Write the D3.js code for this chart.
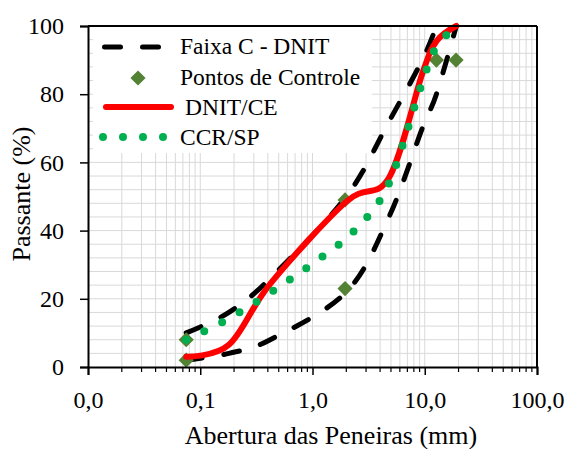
<!DOCTYPE html>
<html>
<head>
<meta charset="utf-8">
<script src="https://cdn.jsdelivr.net/npm/d3@7"></script>
<style>
  html, body { margin: 0; padding: 0; background: #fff; }
  svg { display: block; }
  text { font-family: "Liberation Serif", "Times New Roman", serif; fill: #000; }
</style>
</head>
<body>
<svg id="chart" width="566" height="449"></svg>
<script>
// ---------- data ----------
const xTickValues = [0.01, 0.1, 1, 10, 100];
const xTickLabels = ["0,0", "0,1", "1,0", "10,0", "100,0"];
const yTickValues = [0, 20, 40, 60, 80, 100];

// Faixa C - DNIT (limits)
const supSieves = [0.075, 0.18, 0.42, 2.0, 4.8, 9.5, 12.7];
const faixaSup  = [10, 16, 26, 50, 72, 90, 100];
const infSieves = [0.075, 0.18, 0.42, 2.0, 4.8, 9.5, 12.7, 19.1];
const faixaInf  = [2, 4, 8, 22, 44, 70, 80, 100];

// Pontos de Controle
const pontosX = [0.075, 0.075, 1.95, 1.95, 12.7, 19.0];
const pontosY = [8, 2, 49, 23, 90, 90];

// DNIT/CE
const dnitSieves = [0.075, 0.18, 0.42, 2.0, 4.8, 9.5, 12.7, 19.1];
const dnitCE     = [3, 6.5, 24.4, 48.5, 55.5, 86, 95.5, 100];

// CCR/SP
const ccrSieves = [0.075, 0.15, 0.3, 0.6, 1.18, 2.36, 4.75, 9.5, 12.5, 19.0];
const ccrSP     = [8, 12.8, 18.6, 25.2, 32, 40, 53.5, 83.5, 93.5, 100];

const legendLabels = ["Faixa C - DNIT", "Pontos de Controle", "DNIT/CE", "CCR/SP"];
const axisTitleX = "Abertura das Peneiras (mm)";
const axisTitleY = "Passante (%)";

// ---------- layout ----------
const svg = d3.select("#chart");
const L = 88, R = 537, T = 26, B = 367;
const x = d3.scaleLog().domain([0.01, 100]).range([L, R]);
const y = d3.scaleLinear().domain([0, 100]).range([B, T]);

const gridColor = "#d9d9d9";

// vertical gridlines (2..9 and decades)
const xMinor = [];
for (let e = -2; e < 2; e++) {
  for (let m = 2; m <= 9; m++) xMinor.push(m * Math.pow(10, e));
}
const xGrid = xMinor.concat([0.1, 1, 10]);
svg.append("g").selectAll("line").data(xGrid).join("line")
  .attr("x1", d => x(d)).attr("x2", d => x(d))
  .attr("y1", T).attr("y2", B)
  .attr("stroke", gridColor).attr("stroke-width", 1);

// horizontal gridlines every 4
const yGrid = d3.range(4, 100, 4);
svg.append("g").selectAll("line").data(yGrid).join("line")
  .attr("x1", L).attr("x2", R)
  .attr("y1", d => y(d)).attr("y2", d => y(d))
  .attr("stroke", gridColor).attr("stroke-width", 1);

// legend background
svg.append("rect").attr("x", 93).attr("y", 27).attr("width", 279).attr("height", 126).attr("fill", "#fff");

// ---------- series ----------
const curve = d3.curveCardinal.tension(0);
const lineGen = d3.line().x(d => x(d[0])).y(d => y(d[1])).curve(curve);

const zip = (a, b) => a.map((v, i) => [v, b[i]]);

const dashStyle = sel => sel.attr("fill", "none").attr("stroke", "#000").attr("stroke-width", 5)
  .attr("stroke-dasharray", "16 22").attr("stroke-linecap", "round");

svg.append("path").datum(zip(supSieves, faixaSup)).attr("d", lineGen).call(dashStyle);
svg.append("path").datum(zip(infSieves, faixaInf)).attr("d", lineGen).call(dashStyle);

const diamond = d3.symbol().type(d3.symbolSquare).size(115);
const pontosLayer = svg.append("g");

svg.append("path").datum(zip(dnitSieves, dnitCE)).attr("d", lineGen)
  .attr("fill", "none").attr("stroke", "#ff0000").attr("stroke-width", 6)
  .attr("stroke-linecap", "round").attr("stroke-linejoin", "round");

svg.append("path").datum(zip(ccrSieves, ccrSP)).attr("d", lineGen)
  .attr("fill", "none").attr("stroke", "#00b050").attr("stroke-width", 8)
  .attr("stroke-dasharray", "0 20").attr("stroke-linecap", "round");

pontosLayer.selectAll("path").data(zip(pontosX, pontosY)).join("path")
  .attr("d", diamond)
  .attr("transform", d => `translate(${x(d[0])},${y(d[1])}) rotate(45)`)
  .attr("fill", "#548235");

// ---------- axes ----------
const frame = svg.append("g");
frame.append("line").attr("x1", L).attr("x2", R).attr("y1", T).attr("y2", T).attr("stroke", "#000").attr("stroke-width", 2);
frame.append("line").attr("x1", R).attr("x2", R).attr("y1", T).attr("y2", B).attr("stroke", "#000").attr("stroke-width", 2);

// x axis
const xAxis = d3.axisBottom(x).tickValues(xTickValues).tickSize(8)
  .tickFormat((d, i) => xTickLabels[i]).tickPadding(16);
const gx = svg.append("g").attr("transform", `translate(0,${B})`).call(xAxis);
gx.attr("font-family", null);
gx.select(".domain").attr("stroke-width", 2);
gx.selectAll(".tick line").attr("stroke-width", 1.5);
gx.selectAll(".tick text").attr("font-size", 24).attr("font-family", "Liberation Serif").attr("dy", 0)
  .attr("y", 41);
// minor x ticks
svg.append("g").selectAll("line").data(xMinor).join("line")
  .attr("x1", d => x(d)).attr("x2", d => x(d))
  .attr("y1", B).attr("y2", B + 5)
  .attr("stroke", "#000").attr("stroke-width", 1.2);

// y axis
const yAxis = d3.axisLeft(y).tickValues(yTickValues).tickSize(8).tickFormat(d3.format("d")).tickPadding(16);
const gy = svg.append("g").attr("transform", `translate(${L},0)`).call(yAxis);
gy.attr("font-family", null);
gy.select(".domain").attr("stroke-width", 2);
gy.selectAll(".tick line").attr("stroke-width", 1.5);
gy.selectAll(".tick text").attr("font-size", 24).attr("font-family", "Liberation Serif").attr("x", -24).attr("dy", "0.32em");

// axis titles
svg.append("text").attr("x", 331).attr("y", 444).attr("text-anchor", "middle")
  .attr("font-size", 26).text(axisTitleX);
svg.append("text").attr("transform", "translate(30,194) rotate(-90)").attr("text-anchor", "middle")
  .attr("font-size", 26).text(axisTitleY);

// ---------- legend ----------
const lg = svg.append("g");
const rowY = [47, 78, 107, 137];
lg.append("path").attr("d", d3.line()([[104.5, rowY[0]], [160, rowY[0]]])).call(dashStyle);
lg.append("path").attr("d", diamond).attr("transform", `translate(138,${rowY[1]}) rotate(45)`).attr("fill", "#548235");
lg.append("path").attr("d", d3.line()([[106, rowY[2]], [171, rowY[2]]]))
  .attr("stroke", "#ff0000").attr("stroke-width", 6).attr("stroke-linecap", "round");
lg.append("path").attr("d", d3.line()([[103, rowY[3]], [163.5, rowY[3]]]))
  .attr("stroke", "#00b050").attr("stroke-width", 8).attr("stroke-dasharray", "0 20").attr("stroke-linecap", "round");

const textX = [180, 180, 185, 180];
const textBase = [54, 85, 115, 145];
lg.selectAll("text.lbl").data(legendLabels).join("text").attr("class", "lbl")
  .attr("x", (d, i) => textX[i]).attr("y", (d, i) => textBase[i])
  .attr("font-size", 23.5).text(d => d);
</script>
</body>
</html>
